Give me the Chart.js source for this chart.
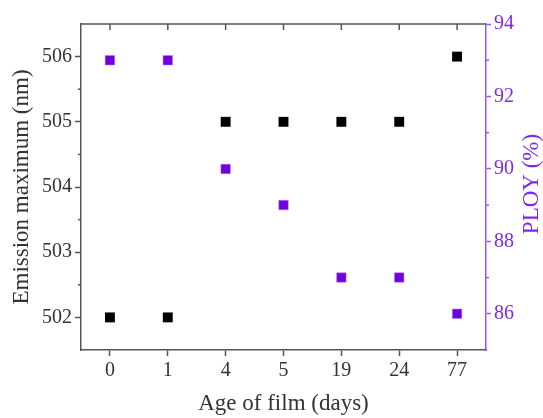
<!DOCTYPE html>
<html>
<head>
<meta charset="utf-8">
<script src="https://cdn.jsdelivr.net/npm/chart.js@4.4.1/dist/chart.umd.min.js"></script>
<style>
  html, body { margin: 0; padding: 0; background: #fff; }
  #wrap { width: 543px; height: 418px; }
</style>
</head>
<body>
<div id="wrap"><canvas id="chart" width="543" height="418"></canvas></div>
<script>
const ageDays = ['0', '1', '4', '5', '19', '24', '77']
const emissionMax = [502, 502, 505, 505, 505, 505, 506]
const ploy = [93, 93, 90, 89, 87, 87, 86]
const leftTicks = [502, 503, 504, 505, 506]
const leftMinor = [502.5, 503.5, 504.5, 505.5]
const rightTicks = [86, 88, 90, 92, 94]
const rightMinor = [87, 89, 91, 93]

const axisGray = '#555'
const textGray = '#333'
const purple = '#6f00dc'
const purpleAxis = '#9a55f5'
const purpleText = '#7f2ae0'
const serif = "'Liberation Serif', 'DejaVu Serif', serif"

// minor ticks, inward top ticks, top frame line and the right title (bottom-to-top)
const extraTicks = {
  id: 'extraTicks',
  afterDraw(chart) {
    const { ctx, chartArea, scales } = chart
    ctx.save()
    ctx.lineWidth = 1.5
    ctx.strokeStyle = axisGray
    ctx.beginPath()
    ctx.moveTo(chartArea.left, chartArea.top)
    ctx.lineTo(chartArea.right, chartArea.top)
    ctx.stroke()
    ageDays.forEach((d, i) => {
      const x = scales.x.getPixelForValue(i)
      ctx.beginPath()
      ctx.moveTo(x, chartArea.top)
      ctx.lineTo(x, chartArea.top + 6)
      ctx.stroke()
    })
    leftMinor.forEach((v) => {
      const y = scales.yL.getPixelForValue(v)
      ctx.beginPath()
      ctx.moveTo(chartArea.left - 3, y)
      ctx.lineTo(chartArea.left, y)
      ctx.stroke()
    })
    ctx.strokeStyle = purpleAxis
    rightMinor.forEach((v) => {
      const y = scales.yR.getPixelForValue(v)
      ctx.beginPath()
      ctx.moveTo(chartArea.right, y)
      ctx.lineTo(chartArea.right + 3, y)
      ctx.stroke()
    })
    const yr = scales.yR
    ctx.translate(yr.right - 11, (chartArea.top + chartArea.bottom) / 2 - 3)
    ctx.rotate(-Math.PI / 2)
    ctx.fillStyle = purpleText
    ctx.font = `23px ${serif}`
    ctx.textAlign = 'center'
    ctx.textBaseline = 'middle'
    ctx.fillText('PLOY (%)', 0, 0)
    ctx.restore()
  },
}

const ctx = document.getElementById('chart').getContext('2d')
new Chart(ctx, {
  type: 'line',
  data: {
    labels: ageDays,
    datasets: [
      {
        label: 'Emission maximum',
        data: emissionMax,
        yAxisID: 'yL',
        showLine: false,
        pointStyle: 'rect',
        pointRadius: 7,
        backgroundColor: '#000',
        borderColor: '#000',
        borderWidth: 0,
      },
      {
        label: 'PLOY',
        data: ploy,
        yAxisID: 'yR',
        showLine: false,
        pointStyle: 'rect',
        pointRadius: 6.7,
        backgroundColor: purple,
        borderColor: '#b080ff',
        borderWidth: 0.5,
      },
    ],
  },
  options: {
    responsive: false,
    animation: false,
    layout: { padding: { top: 24, left: 0, right: 0, bottom: 0 } },
    plugins: { legend: { display: false }, tooltip: { enabled: false } },
    scales: {
      x: {
        type: 'category',
        offset: true,
        afterFit: (s) => { s.height = 68 },
        grid: { drawOnChartArea: false, offset: false, tickLength: 6, tickColor: axisGray, tickWidth: 1.5 },
        border: { color: axisGray, width: 1.5 },
        ticks: { color: textGray, font: { family: serif, size: 20 }, padding: 3, maxRotation: 0 },
        title: { display: true, text: 'Age of film (days)', color: textGray, font: { family: serif, size: 23 }, padding: { top: 0, bottom: 0 } },
      },
      yL: {
        type: 'linear',
        position: 'left',
        min: 501.5,
        max: 506.5,
        afterBuildTicks: (s) => { s.ticks = leftTicks.map((v) => ({ value: v })) },
        afterFit: (s) => { s.width = 81 },
        grid: { drawOnChartArea: false, tickLength: 6, tickColor: axisGray, tickWidth: 1.5 },
        border: { color: axisGray, width: 1.5 },
        ticks: { color: textGray, font: { family: serif, size: 20 }, padding: 3 },
        title: { display: true, text: 'Emission maximum (nm)', color: textGray, font: { family: serif, size: 23 }, padding: { top: 8, bottom: 0 } },
      },
      yR: {
        type: 'linear',
        position: 'right',
        min: 85,
        max: 94,
        afterBuildTicks: (s) => { s.ticks = rightTicks.map((v) => ({ value: v })) },
        afterFit: (s) => { s.width = 57 },
        grid: { drawOnChartArea: false, tickLength: 5, tickColor: purpleAxis, tickWidth: 1.5 },
        border: { color: purpleAxis, width: 1.5 },
        ticks: { color: purpleText, font: { family: serif, size: 20 }, padding: 3 },
      },
    },
  },
  plugins: [extraTicks],
})
</script>
</body>
</html>
